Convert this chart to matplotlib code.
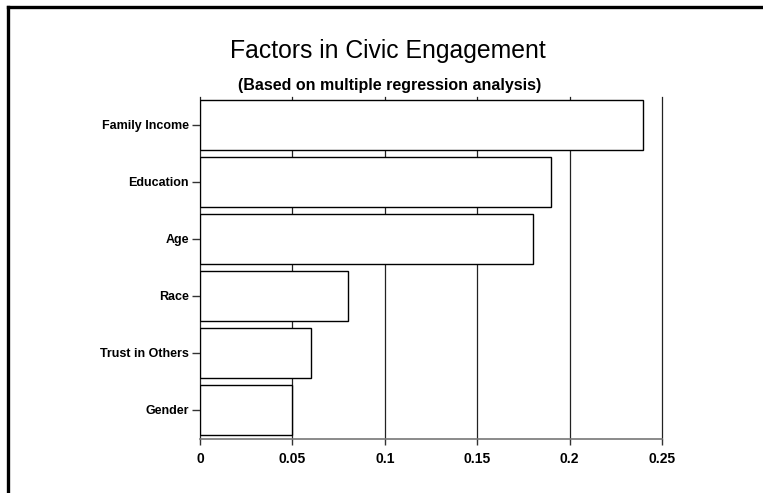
import matplotlib.pyplot as plt
from matplotlib.lines import Line2D

categories = ["Family Income", "Education", "Age", "Race", "Trust in Others", "Gender"]
values = [0.24, 0.19, 0.18, 0.08, 0.06, 0.05]
xticks = [0, 0.05, 0.1, 0.15, 0.2, 0.25]
xtick_labels = ["0", "0.05", "0.1", "0.15", "0.2", "0.25"]

plt.rcParams['font.family'] = ['Liberation Sans', 'DejaVu Sans']

fig = plt.figure(figsize=(7.63, 4.93), dpi=100)
ax = fig.add_axes([0.2621, 0.1095, 0.6055, 0.6937])

pos = list(range(len(categories)))[::-1]
ax.barh(pos, values, height=0.877, color='white', edgecolor='black', linewidth=1.0, zorder=3)

ax.set_xlim(0, 0.25)
ax.set_ylim(-0.509, 5.49)
ax.set_xticks(xticks)
ax.set_xticklabels(xtick_labels, fontweight='bold', fontsize=10)
ax.set_yticks(pos)
ax.set_yticklabels(categories, fontweight='bold', fontsize=9)

ax.grid(axis='x', color='#222222', linewidth=0.9, zorder=1)
for gl in ax.get_xgridlines():
    gl.set_clip_on(False)
ax.set_axisbelow(True)
for s in ['top', 'right', 'left']:
    ax.spines[s].set_visible(False)
ax.spines['bottom'].set_color('#777777')
ax.spines['bottom'].set_linewidth(1.2)
ax.tick_params(axis='x', length=4, width=1, color='#333333', pad=5)
ax.tick_params(axis='y', length=6, width=1, color='#333333', pad=2)

fig.text(0.509, 0.897, "Factors in Civic Engagement", ha='center', va='center', fontsize=17.8)
fig.text(0.511, 0.826, "(Based on multiple regression analysis)", ha='center', va='center',
         fontsize=11.5, fontweight='bold')

# frame along the top and left edge
fig.add_artist(Line2D([0.0105, 0.0105], [0.0, 0.986], transform=fig.transFigure, color='black', linewidth=2.4))
fig.add_artist(Line2D([0.0105, 1.0], [0.986, 0.986], transform=fig.transFigure, color='black', linewidth=2.4))

fig.savefig("out.png", dpi=100)
